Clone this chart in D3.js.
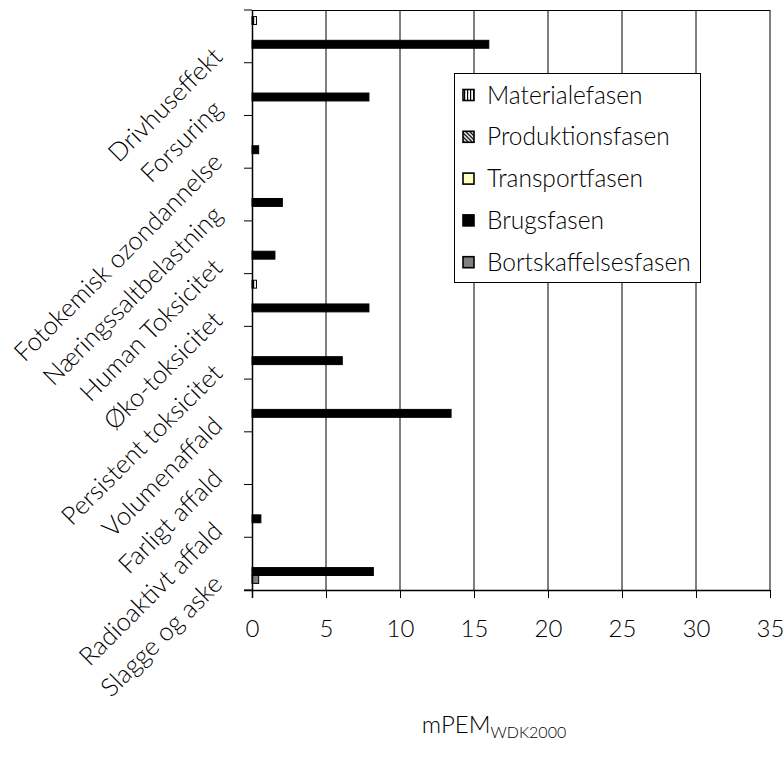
<!DOCTYPE html>
<html>
<head>
<meta charset="utf-8">
<script src="https://cdn.jsdelivr.net/npm/d3@7"></script>
<style>
  html, body { margin: 0; padding: 0; background: #fff; }
  svg text { font-family: Lato, "Open Sans", sans-serif; font-weight: 300; fill: #000; }
</style>
</head>
<body>
<svg id="chart" width="783" height="763"></svg>
<script>
const categories = ["Drivhuseffekt", "Forsuring", "Fotokemisk ozondannelse", "Næringssaltbelastning",
  "Human Toksicitet", "Øko-toksicitet", "Persistent toksicitet", "Volumenaffald",
  "Farligt affald", "Radioaktivt affald", "Slagge og aske"];
const seriesNames = ["Materialefasen", "Produktionsfasen", "Transportfasen", "Brugsfasen", "Bortskaffelsesfasen"];
const materiale = [0.3, 0, 0, 0, 0, 0.3, 0, 0, 0, 0, 0];
const produktion = [0, 0, 0, 0, 0, 0, 0, 0, 0, 0, 0];
const transport = [0, 0, 0, 0, 0, 0, 0, 0, 0, 0, 0];
const brugs = [16.0, 7.9, 0.45, 2.05, 1.55, 7.9, 6.1, 13.45, 0, 0.6, 8.2];
const bortskaffelse = [0, 0, 0, 0, 0, 0, 0, 0, 0, 0, 0.45];
const xTicks = [0, 5, 10, 15, 20, 25, 30, 35];

const seriesValues = [materiale, produktion, transport, brugs, bortskaffelse];
const fills = ["url(#pVert)", "url(#pDiag)", "#FFFFC0", "#000000", "#808080"];

const svg = d3.select("#chart");
const defs = svg.append("defs");
const pv = defs.append("pattern").attr("id", "pVert").attr("patternUnits", "userSpaceOnUse")
  .attr("width", 3).attr("height", 3);
pv.append("rect").attr("width", 3).attr("height", 3).attr("fill", "#fff");
pv.append("rect").attr("x", 1).attr("width", 1.2).attr("height", 3).attr("fill", "#000");
const pd = defs.append("pattern").attr("id", "pDiag").attr("patternUnits", "userSpaceOnUse")
  .attr("width", 4).attr("height", 4);
pd.append("rect").attr("width", 4).attr("height", 4).attr("fill", "#fff");
pd.append("path").attr("d", "M-1,-1 L5,5 M-1,3 L1,5 M3,-1 L5,1").attr("stroke", "#000").attr("stroke-width", 1.3);

const pLeft = 252, pRight = 770, pTop = 10, pBottom = 590;
const x = d3.scaleLinear().domain([0, 35]).range([pLeft, pRight]);
const y = d3.scaleBand().domain(categories).range([pTop, pBottom]).paddingInner(0.25).paddingOuter(0.125);
const ySub = d3.scaleBand().domain(seriesNames).range([0, y.bandwidth()]);
const yOuter = d3.scaleBand().domain(categories).range([pTop, pBottom]);

// gridlines
svg.append("g").selectAll("line").data(xTicks.filter(d => d > 0)).join("line")
  .attr("x1", d => x(d)).attr("x2", d => x(d)).attr("y1", pTop).attr("y2", pBottom)
  .attr("stroke", "#000").attr("stroke-width", 1);
// top border
svg.append("line").attr("x1", pLeft).attr("x2", pRight).attr("y1", pTop + 0.5).attr("y2", pTop + 0.5)
  .attr("stroke", "#000");

// bars
const groups = svg.append("g").selectAll("g").data(categories).join("g")
  .attr("transform", d => `translate(0,${y(d)})`);
groups.each(function(cat, ci) {
  const g = d3.select(this);
  seriesNames.forEach((s, si) => {
    const v = seriesValues[si][ci];
    if (v > 0) {
      g.append("rect")
        .attr("x", x(0)).attr("y", ySub(s))
        .attr("width", x(v) - x(0)).attr("height", ySub.bandwidth())
        .attr("fill", fills[si]).attr("stroke", "#000").attr("stroke-width", 1);
    }
  });
});

// y axis
const yAxis = svg.append("g");
yAxis.append("line").attr("x1", pLeft + 0.5).attr("x2", pLeft + 0.5).attr("y1", pTop).attr("y2", pBottom + 8)
  .attr("stroke", "#000").attr("stroke-width", 1.5);
const bounds = categories.map(c => yOuter(c)).concat([pBottom]);
yAxis.selectAll("line.tk").data(bounds).join("line").attr("class", "tk")
  .attr("x1", pLeft - 8).attr("x2", pLeft).attr("y1", d => d).attr("y2", d => d)
  .attr("stroke", "#000").attr("stroke-width", 1);
yAxis.selectAll("text").data(categories).join("text")
  .attr("transform", d => `translate(${224},${yOuter(d) + yOuter.bandwidth() / 2 + 22}) rotate(-45)`)
  .attr("text-anchor", "end")
  .style("font-size", "25.5px")
  .text(d => d);

// x axis
const xAxis = d3.axisBottom(x).tickValues(xTicks).tickSize(8).tickFormat(d3.format("d"));
const xg = svg.append("g").attr("transform", `translate(0,${pBottom})`).call(xAxis);
xg.select(".domain").attr("stroke", "#000").attr("stroke-width", 1.5).attr("d", `M${pLeft - 8},0.5H${pRight}`);
xg.selectAll(".tick line").attr("stroke", "#000");
xg.selectAll(".tick text").attr("dy", 0).attr("y", 47)
  .style("font-size", "24px").style("font-family", "Lato, sans-serif").attr("fill", "#000");

// x axis title
const title = svg.append("text").attr("x", 494).attr("y", 733).attr("text-anchor", "middle").style("font-size", "24px");
title.append("tspan").text("mPEM");
title.append("tspan").attr("dy", 5).style("font-size", "16px").text("WDK2000");

// legend
const lg = svg.append("g");
lg.append("rect").attr("x", 454.5).attr("y", 73.5).attr("width", 246).attr("height", 209)
  .attr("fill", "#fff").attr("stroke", "#000");
const items = lg.selectAll("g").data(seriesNames).join("g")
  .attr("transform", (d, i) => `translate(463,${95 + i * 41.8})`);
items.append("rect").attr("x", 0).attr("y", -5.5).attr("width", 11).attr("height", 11)
  .attr("fill", (d, i) => fills[i]).attr("stroke", "#000").attr("stroke-width", 1.6);
items.append("text").attr("x", 24).attr("y", 0).attr("dy", "0.35em").style("font-size", "24.5px").text(d => d);
</script>
</body>
</html>
